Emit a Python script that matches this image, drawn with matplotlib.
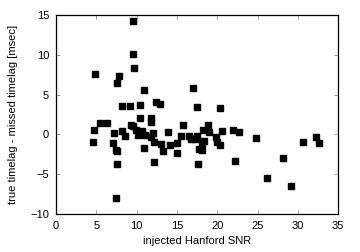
import matplotlib
matplotlib.use("Agg")
from matplotlib import pyplot as plt

# injected SNR vs timing difference
snr = [4.55, 4.71, 4.88, 5.46, 6.29, 7.24, 7.07, 7.48, 7.60, 7.53,
       7.48, 7.53, 7.78, 8.19, 8.23, 8.60, 9.22, 9.35, 9.51, 9.55,
       9.59, 9.68, 9.88, 10.10, 10.42, 10.46, 10.63, 10.88, 10.96, 11.00,
       11.75, 11.83, 11.83, 12.03, 12.20, 12.12, 12.41, 12.94, 13.07, 13.27,
       13.85, 14.10, 14.97, 14.97, 15.55, 15.71, 16.46, 16.75, 17.00, 17.29,
       17.46, 17.53, 17.66, 17.78, 18.15, 18.07, 18.36, 18.28, 18.86, 18.94,
       19.81, 19.93, 20.35, 20.35, 20.64, 21.96, 22.25, 22.70, 24.81, 26.22,
       28.12, 29.20, 30.69, 32.26, 32.63]
dt = [-0.97, 0.59, 7.58, 1.47, 1.47, 0.13, -1.09, -1.97, -2.14, -3.68,
      -7.95, 6.49, 7.29, 3.52, 0.42, -0.21, 3.60, 1.13, 14.28, 1.04,
      10.13, 8.37, 0.59, -0.13, 3.68, 2.09, 0.42, -1.76, 5.57, -0.13,
      1.51, 2.09, -0.38, 0.21, -0.97, -3.52, 4.10, 3.81, -1.17, -2.14,
      0.34, -1.34, -1.09, -2.35, -0.17, 1.17, -0.21, -0.54, 5.80, -0.59,
      -0.17, 3.43, -3.68, -1.85, -1.97, -1.04, -0.88, 0.54, 1.17, 0.29,
      -0.34, -0.92, -1.30, 3.31, 0.46, 0.54, -3.35, 0.34, -0.50, -5.53,
      -2.93, -6.53, -1.00, -0.29, -1.04]

xticks = [0, 5, 10, 15, 20, 25, 30, 35]
yticks = [-10, -5, 0, 5, 10, 15]

plt.rcParams['font.family'] = ['Liberation Sans', 'DejaVu Sans']
plt.rcParams['font.size'] = 8

fig = plt.figure(figsize=(3.6, 2.52), dpi=100)
ax = fig.add_axes([0.156, 0.151, 0.783, 0.789])
ax.plot(snr, dt, 's', color='black', markersize=4.2, linestyle='none')

ax.set_xlim(0, 35)
ax.set_ylim(-10, 15)
ax.set_xticks(xticks)
ax.set_yticks(yticks)
ax.tick_params(direction='in', top=True, right=True, length=3, width=0.6,
               color='#888888', pad=5)
for s in ax.spines.values():
    s.set_linewidth(0.9)
ax.set_xlabel('injected Hanford SNR', labelpad=4)
ax.set_ylabel('true timelag - missed timelag [msec]', labelpad=9)

fig.savefig('out.png', dpi=100)
